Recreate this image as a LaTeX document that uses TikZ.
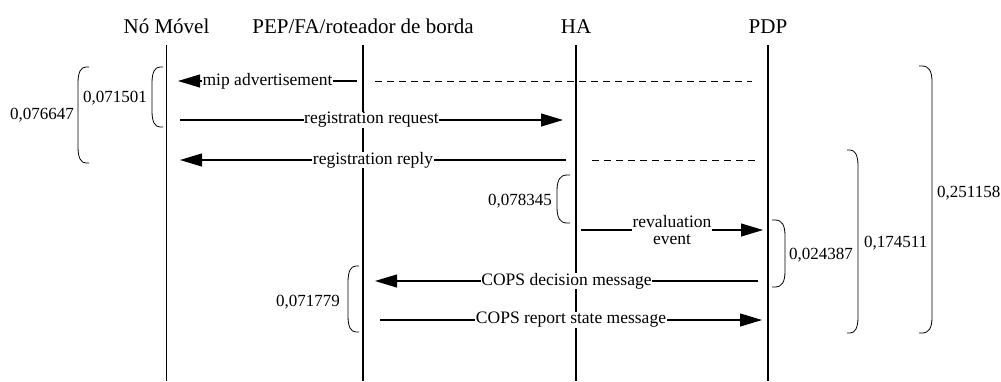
\documentclass[tikz,border=0pt]{standalone}
\usepackage{fontspec}
\setmainfont{Liberation Serif}
\usetikzlibrary{arrows.meta}
\newcommand\myRbr[4]{\draw[brk] (#1,#3) -- ({#1+3},#3) .. controls ({#2-3},#3) and (#2,{#3+5}) .. (#2,{#3+16}) -- (#2,{#4-16}) .. controls (#2,{#4-5}) and ({#2-3},#4) .. ({#1+3},#4) -- (#1,#4);}
\newcommand\myLbr[4]{\draw[brk] (#1,#3) -- ({#1-3},#3) .. controls ({#2+3},#3) and (#2,{#3+5}) .. (#2,{#3+16}) -- (#2,{#4-16}) .. controls (#2,{#4-5}) and ({#2+3},#4) .. ({#1-3},#4) -- (#1,#4);}
\tikzset{
  title/.style={font=\rmfamily\fontsize{21}{25}\selectfont, anchor=base, inner sep=0pt},
  life/.style={line width=1.4pt},
  msg/.style={line width=1.1pt, -{Triangle[length=22pt,width=13pt]}},
  dash line/.style={line width=1pt, dash pattern=on 7pt off 5pt},
  lbl/.style={font=\rmfamily\fontsize{17.5}{19}\selectfont, fill=white, inner sep=0.5pt, align=center},
  num/.style={font=\rmfamily\fontsize{17}{19}\selectfont, inner sep=0pt},
  brk/.style={line width=0.8pt}
}
\begin{document}
\begin{tikzpicture}[x=1pt,y=-1pt]
\useasboundingbox (0,0) rectangle (1001,381);
% titles
\node[title] (tNo) at (166.5,33) {Nó Móvel};
\node[title] (tPEP) at (363,33) {PEP/FA/roteador de borda};
\node[title] (tHA) at (576,33) {HA};
\node[title] (tPDP) at (768,33) {PDP};
% lifelines
\coordinate (NoT) at (166.5,45); \coordinate (NoB) at (166.5,381);
\coordinate (PEPT) at (363,45); \coordinate (PEPB) at (363,381);
\coordinate (HAT) at (576,45); \coordinate (HAB) at (576,381);
\coordinate (PDPT) at (768,45); \coordinate (PDPB) at (768,381);
\draw[life] (NoT) -- (NoB);
\draw[life] (PEPT) -- (PEPB);
\draw[life] (HAT) -- (HAB);
\draw[life] (PDPT) -- (PDPB);
% message end points
\coordinate (m1a) at (357,81); \coordinate (m1b) at (178,81);
\coordinate (d1a) at (375,81); \coordinate (d1b) at (752,81);
\coordinate (m2a) at (180,120); \coordinate (m2b) at (563,120);
\coordinate (m3a) at (566,160); \coordinate (m3b) at (180,160);
\coordinate (d3a) at (592,160); \coordinate (d3b) at (758,160);
\coordinate (m4a) at (581,230); \coordinate (m4b) at (763,230);
\coordinate (m5a) at (758,281); \coordinate (m5b) at (375,281);
\coordinate (m6a) at (380,320); \coordinate (m6b) at (762,320);
% messages
\draw[msg] (m1a) -- node[lbl] (l1) {mip advertisement} (m1b);
\draw[dash line] (d1a) -- (d1b);
\draw[msg] (m2a) -- node[lbl] (l2) {registration request} (m2b);
\draw[msg] (m3a) -- node[lbl] (l3) {registration reply} (m3b);
\draw[dash line] (d3a) -- (d3b);
\draw[msg] (m4a) -- node[lbl, font=\rmfamily\fontsize{17.5}{17}\selectfont] (l4) {revaluation\\event} (m4b);
\draw[msg] (m5a) -- node[lbl] (l5) {COPS decision message} (m5b);
\draw[msg] (m6a) -- node[lbl] (l6) {COPS report state message} (m6b);
% brackets
\myLbr{163}{152}{67}{127}
\myLbr{89}{78}{67}{163}
\myLbr{570}{557}{175}{223}
\myLbr{359}{348}{266}{332}
\myRbr{772}{785}{220}{287}
\myRbr{847}{858}{150}{333}
\myRbr{919}{932}{66}{333}
% bracket values
\node[num, anchor=base east] (n1) at (147,102.5) {0,071501};
\node[num, anchor=base east] (n2) at (74,119) {0,076647};
\node[num, anchor=base east] (n3) at (552,205) {0,078345};
\node[num, anchor=base east] (n4) at (340,306) {0,071779};
\node[num, anchor=base west] (n5) at (789,259) {0,024387};
\node[num, anchor=base west] (n6) at (864,247.5) {0,174511};
\node[num, anchor=base west] (n7) at (937,197.5) {0,251158};
\end{tikzpicture}
\end{document}
